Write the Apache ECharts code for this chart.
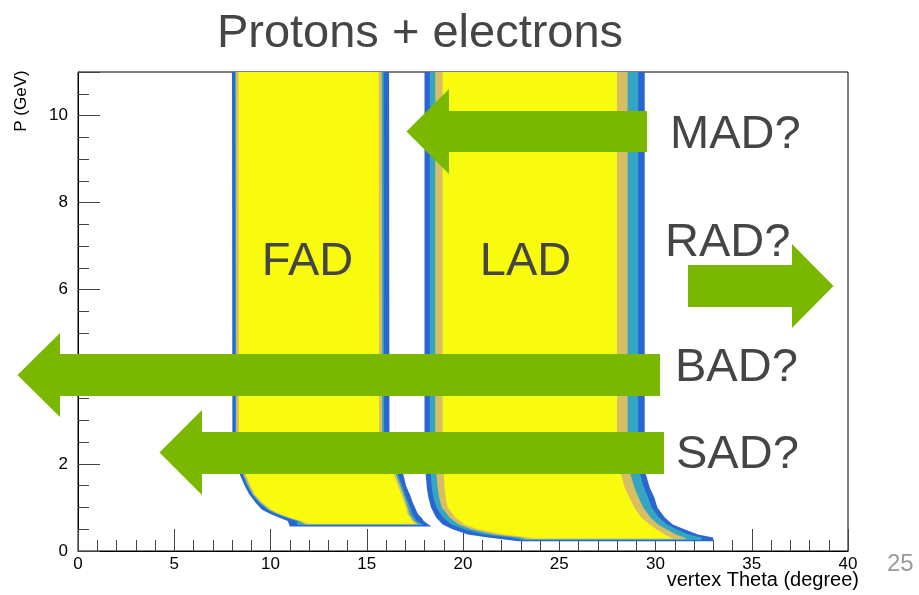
<!DOCTYPE html>
<html><head><meta charset="utf-8">
<script src="https://cdn.jsdelivr.net/npm/echarts@6/dist/echarts.min.js"></script>
<style>html,body{margin:0;padding:0;background:#fff;}#c{width:919px;height:595px;}</style>
</head><body><div id="c"></div>
<script>
// Axis ranges / ticks
const xRange = [0, 40];
const yRange = [0, 11];
const yLabelValues = [0, 2, 4, 6, 8, 10];

// Band outlines, per momentum row:
// [p (GeV), leftOuter, leftMid, leftTan, leftInner, rightInner, rightTan, rightMid, rightOuter] (theta, degree)
const fadRows = [
  [11.0, 8.00, 8.16, 8.20, 8.34, 15.62, 15.78, 15.88, 16.16],
  [2.60, 8.02, 8.18, 8.22, 8.36, 15.64, 15.80, 15.90, 16.18],
  [2.20, 8.10, 8.24, 8.28, 8.40, 15.72, 15.88, 15.98, 16.26],
  [2.00, 8.20, 8.32, 8.36, 8.48, 15.86, 16.00, 16.10, 16.36],
  [1.76, 8.40, 8.54, 8.60, 8.70, 16.40, 16.52, 16.62, 16.90],
  [1.50, 8.66, 8.80, 8.86, 8.96, 16.62, 16.74, 16.84, 17.04],
  [1.30, 8.90, 9.04, 9.10, 9.18, 16.80, 16.90, 17.00, 17.24],
  [1.10, 9.24, 9.42, 9.50, 9.60, 16.96, 17.06, 17.16, 17.40],
  [0.95, 9.56, 9.84, 9.94, 10.04, 17.06, 17.16, 17.30, 17.56],
  [0.85, 10.00, 10.28, 10.40, 10.50, 17.12, 17.22, 17.36, 17.66],
  [0.76, 10.50, 10.84, 10.96, 11.10, 17.26, 17.36, 17.50, 17.86],
  [0.69, 10.90, 11.36, 11.48, 11.60, 17.36, 17.46, 17.60, 17.96]
];
// bottom edge per layer (outer, mid, tan, core): [p, thetaLeft, thetaRight]
const fadBottoms = [
  [0.565, 11.0, 18.35],
  [0.595, 11.4, 17.95],
  [0.610, 11.8, 17.70],
  [0.625, 12.0, 17.50]
];
const ladRows = [
  [11.0, 18.00, 18.28, 18.56, 18.94, 28.00, 28.55, 29.10, 29.44],
  [2.60, 18.00, 18.28, 18.56, 18.94, 28.00, 28.55, 29.10, 29.44],
  [1.76, 18.06, 18.32, 18.62, 19.00, 28.20, 28.70, 29.20, 29.50],
  [1.46, 18.12, 18.38, 18.68, 19.04, 28.40, 28.90, 29.40, 29.70],
  [1.23, 18.20, 18.46, 18.76, 19.10, 28.64, 29.12, 29.62, 29.94],
  [1.00, 18.34, 18.62, 18.90, 19.20, 28.90, 29.36, 29.80, 30.10],
  [0.77, 18.60, 18.96, 19.30, 19.60, 29.26, 29.74, 30.18, 30.48],
  [0.61, 18.94, 19.40, 19.78, 20.10, 29.70, 30.14, 30.60, 30.90],
  [0.50, 19.46, 20.06, 20.44, 20.76, 30.04, 30.56, 31.10, 31.50],
  [0.38, 20.24, 21.10, 21.60, 22.14, 30.46, 31.06, 31.70, 32.20],
  [0.31, 21.30, 22.50, 23.00, 23.40, 30.80, 31.50, 32.40, 33.00]
];
const ladBottoms = [
  [0.225, 22.9, 33.0],
  [0.250, 23.1, 32.4],
  [0.270, 23.3, 31.6],
  [0.285, 23.6, 30.9]
];
const bandNames = ['FAD', 'LAD'];
const detectorLabels = ['MAD?', 'RAD?', 'BAD?', 'SAD?'];

const bands = [
  { rows: fadRows, bottoms: fadBottoms },
  { rows: ladRows, bottoms: ladBottoms }
];
const layerColors = ['#2a66d2', '#35a6c2', '#d9bd62', '#f9fb0e'];

const layerItems = [];
bands.forEach((b, bi) => { for (let k = 0; k < 4; k++) layerItems.push([bi, k]); });

const GREEN = '#7ab800';
const TXT = '#454545';
const bigFont = '47px "Liberation Sans", Arial, sans-serif';

const chart = echarts.init(document.getElementById('c'), null, { renderer: 'canvas' });
chart.setOption({
  animation: false,
  backgroundColor: '#fff',
  grid: { left: 78, right: 71, top: 72, bottom: 44, show: true, borderColor: '#000', borderWidth: 1,
          backgroundColor: 'transparent', containLabel: false, outerBoundsMode: 'none' },
  xAxis: [{
    type: 'value', min: xRange[0], max: xRange[1], interval: 5,
    axisLine: { show: true, lineStyle: { color: '#000', width: 1 } },
    axisTick: { show: true, inside: true, length: 22, lineStyle: { color: '#444' } },
    minorTick: { show: true, splitNumber: 5, length: 11, lineStyle: { color: '#444' } },
    splitLine: { show: false }, minorSplitLine: { show: false },
    axisLabel: { fontSize: 17, color: '#000', margin: 5, fontFamily: 'Liberation Sans', showMinLabel: true, showMaxLabel: true }
  }],
  yAxis: [{
    type: 'value', min: yRange[0], max: yRange[1], interval: 0.5,
    axisLine: { show: true, lineStyle: { color: '#000', width: 1 } },
    axisTick: { show: true, inside: true, length: 11, lineStyle: { color: '#444' } },
    splitLine: { show: false },
    axisLabel: { fontSize: 17, color: '#000', margin: 10, fontFamily: 'Liberation Sans',
      formatter: v => (yLabelValues.indexOf(v) >= 0 ? String(v) : '') }
  }, {
    type: 'value', min: yRange[0], max: yRange[1], interval: 2, position: 'left',
    axisLine: { show: false },
    axisTick: { show: true, inside: true, length: 22, lineStyle: { color: '#444' } },
    splitLine: { show: false }, axisLabel: { show: false }
  }],
  series: [{
    type: 'custom', xAxisIndex: 0, yAxisIndex: 0, clip: true,
    data: layerItems,
    renderItem: function (params, api) {
      const bi = api.value(0), k = api.value(1);
      const rows = bands[bi].rows, bot = bands[bi].bottoms[k];
      const pts = [];
      rows.forEach(r => pts.push(api.coord([r[1 + k], r[0]])));
      pts.push(api.coord([bot[1], bot[0]]));
      pts.push(api.coord([bot[2], bot[0]]));
      for (let i = rows.length - 1; i >= 0; i--) pts.push(api.coord([rows[i][8 - k], rows[i][0]]));
      return { type: 'polygon', z2: k, shape: { points: pts }, style: { fill: layerColors[k] } };
    }
  }],
  graphic: [
    { type: 'text', z: 100, style: { text: 'Protons + electrons', x: 420, y: 34, textAlign: 'center', textVerticalAlign: 'middle', font: bigFont, fill: TXT } },
    { type: 'text', z: 100, style: { text: bandNames[0], x: 307.5, y: 262, textAlign: 'center', textVerticalAlign: 'middle', font: bigFont, fill: TXT } },
    { type: 'text', z: 100, style: { text: bandNames[1], x: 525.5, y: 262, textAlign: 'center', textVerticalAlign: 'middle', font: bigFont, fill: TXT } },
    { type: 'polygon', z: 100, shape: { points: [[406.5,131.5],[449,89],[449,111],[647,111],[647,152],[449,152],[449,174]] }, style: { fill: GREEN } },
    { type: 'polygon', z: 100, shape: { points: [[833.5,286],[792,244],[792,265],[688,265],[688,307],[792,307],[792,328]] }, style: { fill: GREEN } },
    { type: 'polygon', z: 100, shape: { points: [[17.5,375],[60,333],[60,354],[660,354],[660,396],[60,396],[60,417]] }, style: { fill: GREEN } },
    { type: 'polygon', z: 100, shape: { points: [[159.5,452.5],[202,410],[202,432],[664,432],[664,474],[202,474],[202,495]] }, style: { fill: GREEN } },
    { type: 'text', z: 100, style: { text: detectorLabels[0], x: 670, y: 135.5, textAlign: 'left', textVerticalAlign: 'middle', font: bigFont, fill: TXT } },
    { type: 'text', z: 100, style: { text: detectorLabels[1], x: 665, y: 243, textAlign: 'left', textVerticalAlign: 'middle', font: bigFont, fill: TXT } },
    { type: 'text', z: 100, style: { text: detectorLabels[2], x: 675, y: 368.5, textAlign: 'left', textVerticalAlign: 'middle', font: bigFont, fill: TXT } },
    { type: 'text', z: 100, style: { text: detectorLabels[3], x: 676, y: 455, textAlign: 'left', textVerticalAlign: 'middle', font: bigFont, fill: TXT } },
    { type: 'text', z: 100, style: { text: 'vertex Theta (degree)', x: 859, y: 580, textAlign: 'right', textVerticalAlign: 'middle', font: '20px "Liberation Sans", Arial, sans-serif', fill: '#000' } },
    { type: 'text', z: 100, rotation: Math.PI / 2, x: 21, y: 101, style: { text: 'P (GeV)', x: 0, y: 0, textAlign: 'center', textVerticalAlign: 'middle', font: '17px "Liberation Sans", Arial, sans-serif', fill: '#000' } },
    { type: 'text', z: 100, style: { text: '25', x: 887, y: 564, textAlign: 'left', textVerticalAlign: 'middle', font: '24px "Liberation Sans", Arial, sans-serif', fill: '#9a9a9a' } }
  ]
});
</script></body></html>
